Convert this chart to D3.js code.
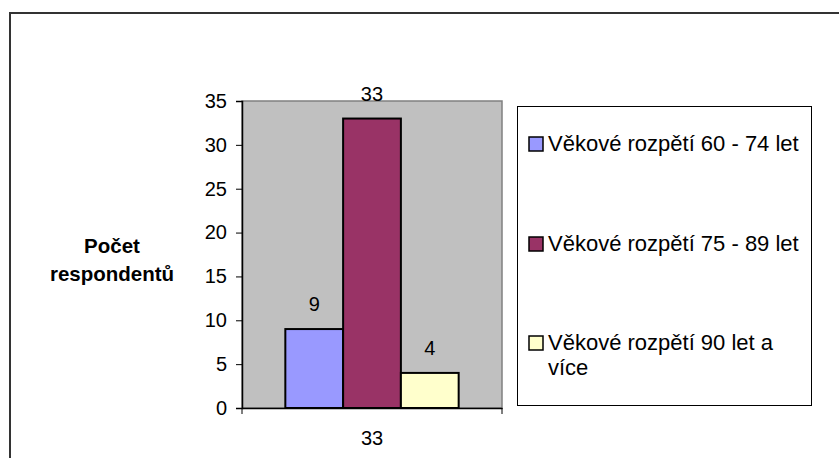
<!DOCTYPE html>
<html><head><meta charset="utf-8">
<script src="https://cdn.jsdelivr.net/npm/d3@7"></script>
<style>body{margin:0;background:#fff}svg{display:block;font-family:Arial,"Liberation Sans",sans-serif}</style>
</head><body>
<svg id="c" width="839" height="458"></svg>
<script>
const categories = ["33"];
const seriesNames = ["Věkové rozpětí 60 - 74 let", "Věkové rozpětí 75 - 89 let", "Věkové rozpětí 90 let a více"];
const seriesValues = [9, 33, 4];
const seriesColors = ["#9999FF", "#993366", "#FFFFCC"];
const yTicks = [0, 5, 10, 15, 20, 25, 30, 35];
const yTitle = ["Počet", "respondentů"];

const FONT = "Arial, Liberation Sans, sans-serif";
const svg = d3.select("#c");
// outer frame
svg.append("rect").attr("x", 10).attr("y", 13).attr("width", 900).attr("height", 600)
  .attr("fill", "#fff").attr("stroke", "#333").attr("stroke-width", 2);

const plot = {l: 242, r: 502, t: 101, b: 408};
const y = d3.scaleLinear().domain([0, 35]).range([plot.b, plot.t]);
const x0 = d3.scaleBand().domain(categories).range([plot.l, plot.r]).paddingInner(0).paddingOuter(0);
const groupW = x0.bandwidth() * (3 / 4.5);
const x1 = d3.scaleBand().domain(d3.range(seriesValues.length)).range([0, groupW]);

svg.append("rect").attr("x", plot.l).attr("y", plot.t).attr("width", plot.r - plot.l).attr("height", plot.b - plot.t)
  .attr("fill", "#C0C0C0").attr("stroke", "#808080").attr("stroke-width", 1.5);

const g = svg.append("g").attr("transform", `translate(${x0(categories[0]) + (x0.bandwidth() - groupW) / 2},0)`);
g.selectAll("rect").data(seriesValues).join("rect")
  .attr("x", (d, i) => x1(i)).attr("y", d => y(d))
  .attr("width", x1.bandwidth()).attr("height", d => y(0) - y(d))
  .attr("fill", (d, i) => seriesColors[i]).attr("stroke", "#000").attr("stroke-width", 2);
g.selectAll("text").data(seriesValues).join("text")
  .attr("x", (d, i) => x1(i) + x1.bandwidth() / 2).attr("y", d => y(d) - 18)
  .attr("text-anchor", "middle").attr("font-size", 20).attr("fill", "#000").text(d => d);

// y axis
const yAxis = d3.axisLeft(y).tickValues(yTicks).tickSize(6).tickPadding(9);
const ya = svg.append("g").attr("transform", `translate(${plot.l},0)`).call(yAxis);
ya.select(".domain").attr("stroke", "#000").attr("stroke-width", 1.5);
ya.selectAll(".tick line").attr("stroke", "#000");
ya.selectAll("text").attr("font-size", 20).attr("fill", "#000").attr("font-family", FONT);

// x axis
const xAxis = d3.axisBottom(x0).tickSize(0).tickPadding(23);
const xa = svg.append("g").attr("transform", `translate(0,${plot.b})`).call(xAxis);
xa.select(".domain").attr("stroke", "#000").attr("stroke-width", 1.5);
xa.selectAll("text").attr("font-size", 20).attr("fill", "#000").attr("font-family", FONT);
[plot.l, plot.r].forEach(px => svg.append("line").attr("x1", px).attr("x2", px).attr("y1", plot.b).attr("y2", plot.b + 6).attr("stroke", "#000"));

// y title
svg.append("text").attr("x", 112).attr("y", 253).attr("text-anchor", "middle")
  .attr("font-size", 20.5).attr("font-weight", "bold").selectAll("tspan").data(yTitle).join("tspan")
  .attr("x", 112).attr("dy", (d, i) => i ? 28 : 0).text(d => d);

// legend
svg.append("rect").attr("x", 517.5).attr("y", 106.5).attr("width", 294).attr("height", 299)
  .attr("fill", "#fff").attr("stroke", "#000").attr("stroke-width", 1);
const legY = [137, 237, 336];
const legLines = [[seriesNames[0]], [seriesNames[1]], ["Věkové rozpětí 90 let a", "více"]];
const lg = svg.append("g");
seriesNames.forEach((n, i) => {
  lg.append("rect").attr("x", 529).attr("y", legY[i]).attr("width", 14).attr("height", 14)
    .attr("fill", seriesColors[i]).attr("stroke", "#000").attr("stroke-width", 1.5);
  const t = lg.append("text").attr("x", 548).attr("y", legY[i] + 14).attr("font-size", 22).attr("fill", "#000");
  t.selectAll("tspan").data(legLines[i]).join("tspan").attr("x", 548).attr("dy", (d, j) => j ? 25 : 0).text(d => d);
});
</script>
</body></html>
